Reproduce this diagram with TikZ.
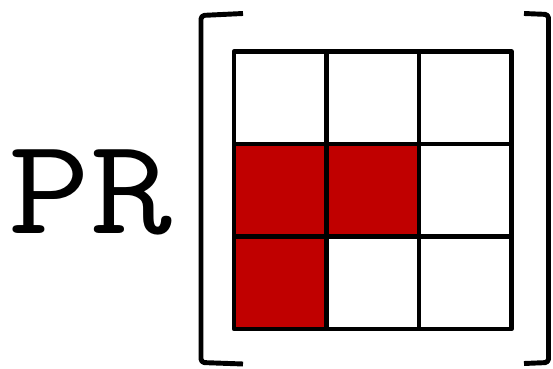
\documentclass[tikz,border=0pt]{standalone}
\usepackage{fontspec}
\usetikzlibrary{positioning}
\definecolor{cellred}{RGB}{192,0,0}
\tikzset{
  optext/.style={font=\ttfamily\fontsize{78}{78}\selectfont, inner sep=0pt, xscale=1.16},
  gridline/.style={draw=black, line width=2.6pt, line join=round},
  bracketline/.style={draw=black, line width=2.8pt, line join=round, rounded corners=2pt},
  hit/.style={fill=cellred}
}

\begin{document}
\begin{tikzpicture}
\useasboundingbox (0,0) rectangle (11.06,7.36);
% ---- operator name ----
\node[optext, anchor=base west] (opname) at (0.16,2.7) {PR};
% ---- 3x3 pattern ----
\begin{scope}[shift={(4.68,0.78)}]
\foreach \c/\r in {0/1,1/1,0/0}
  \fill[hit] (1.85*\c,1.85*\r) rectangle ++(1.85,1.85);
\draw[gridline] (0,0) grid[step=1.85] (5.56,5.56);
\draw[gridline] (0,0) rectangle (5.55,5.55);
\end{scope}
% ---- brackets ----
\draw[bracketline] (4.86,7.09) -- (4.02,7.05) -- (4.02,0.11) -- (4.86,0.08);
\draw[bracketline] (10.48,7.09) -- (10.97,7.07) -- (10.97,0.11) -- (10.48,0.09);
\end{tikzpicture}
\end{document}
